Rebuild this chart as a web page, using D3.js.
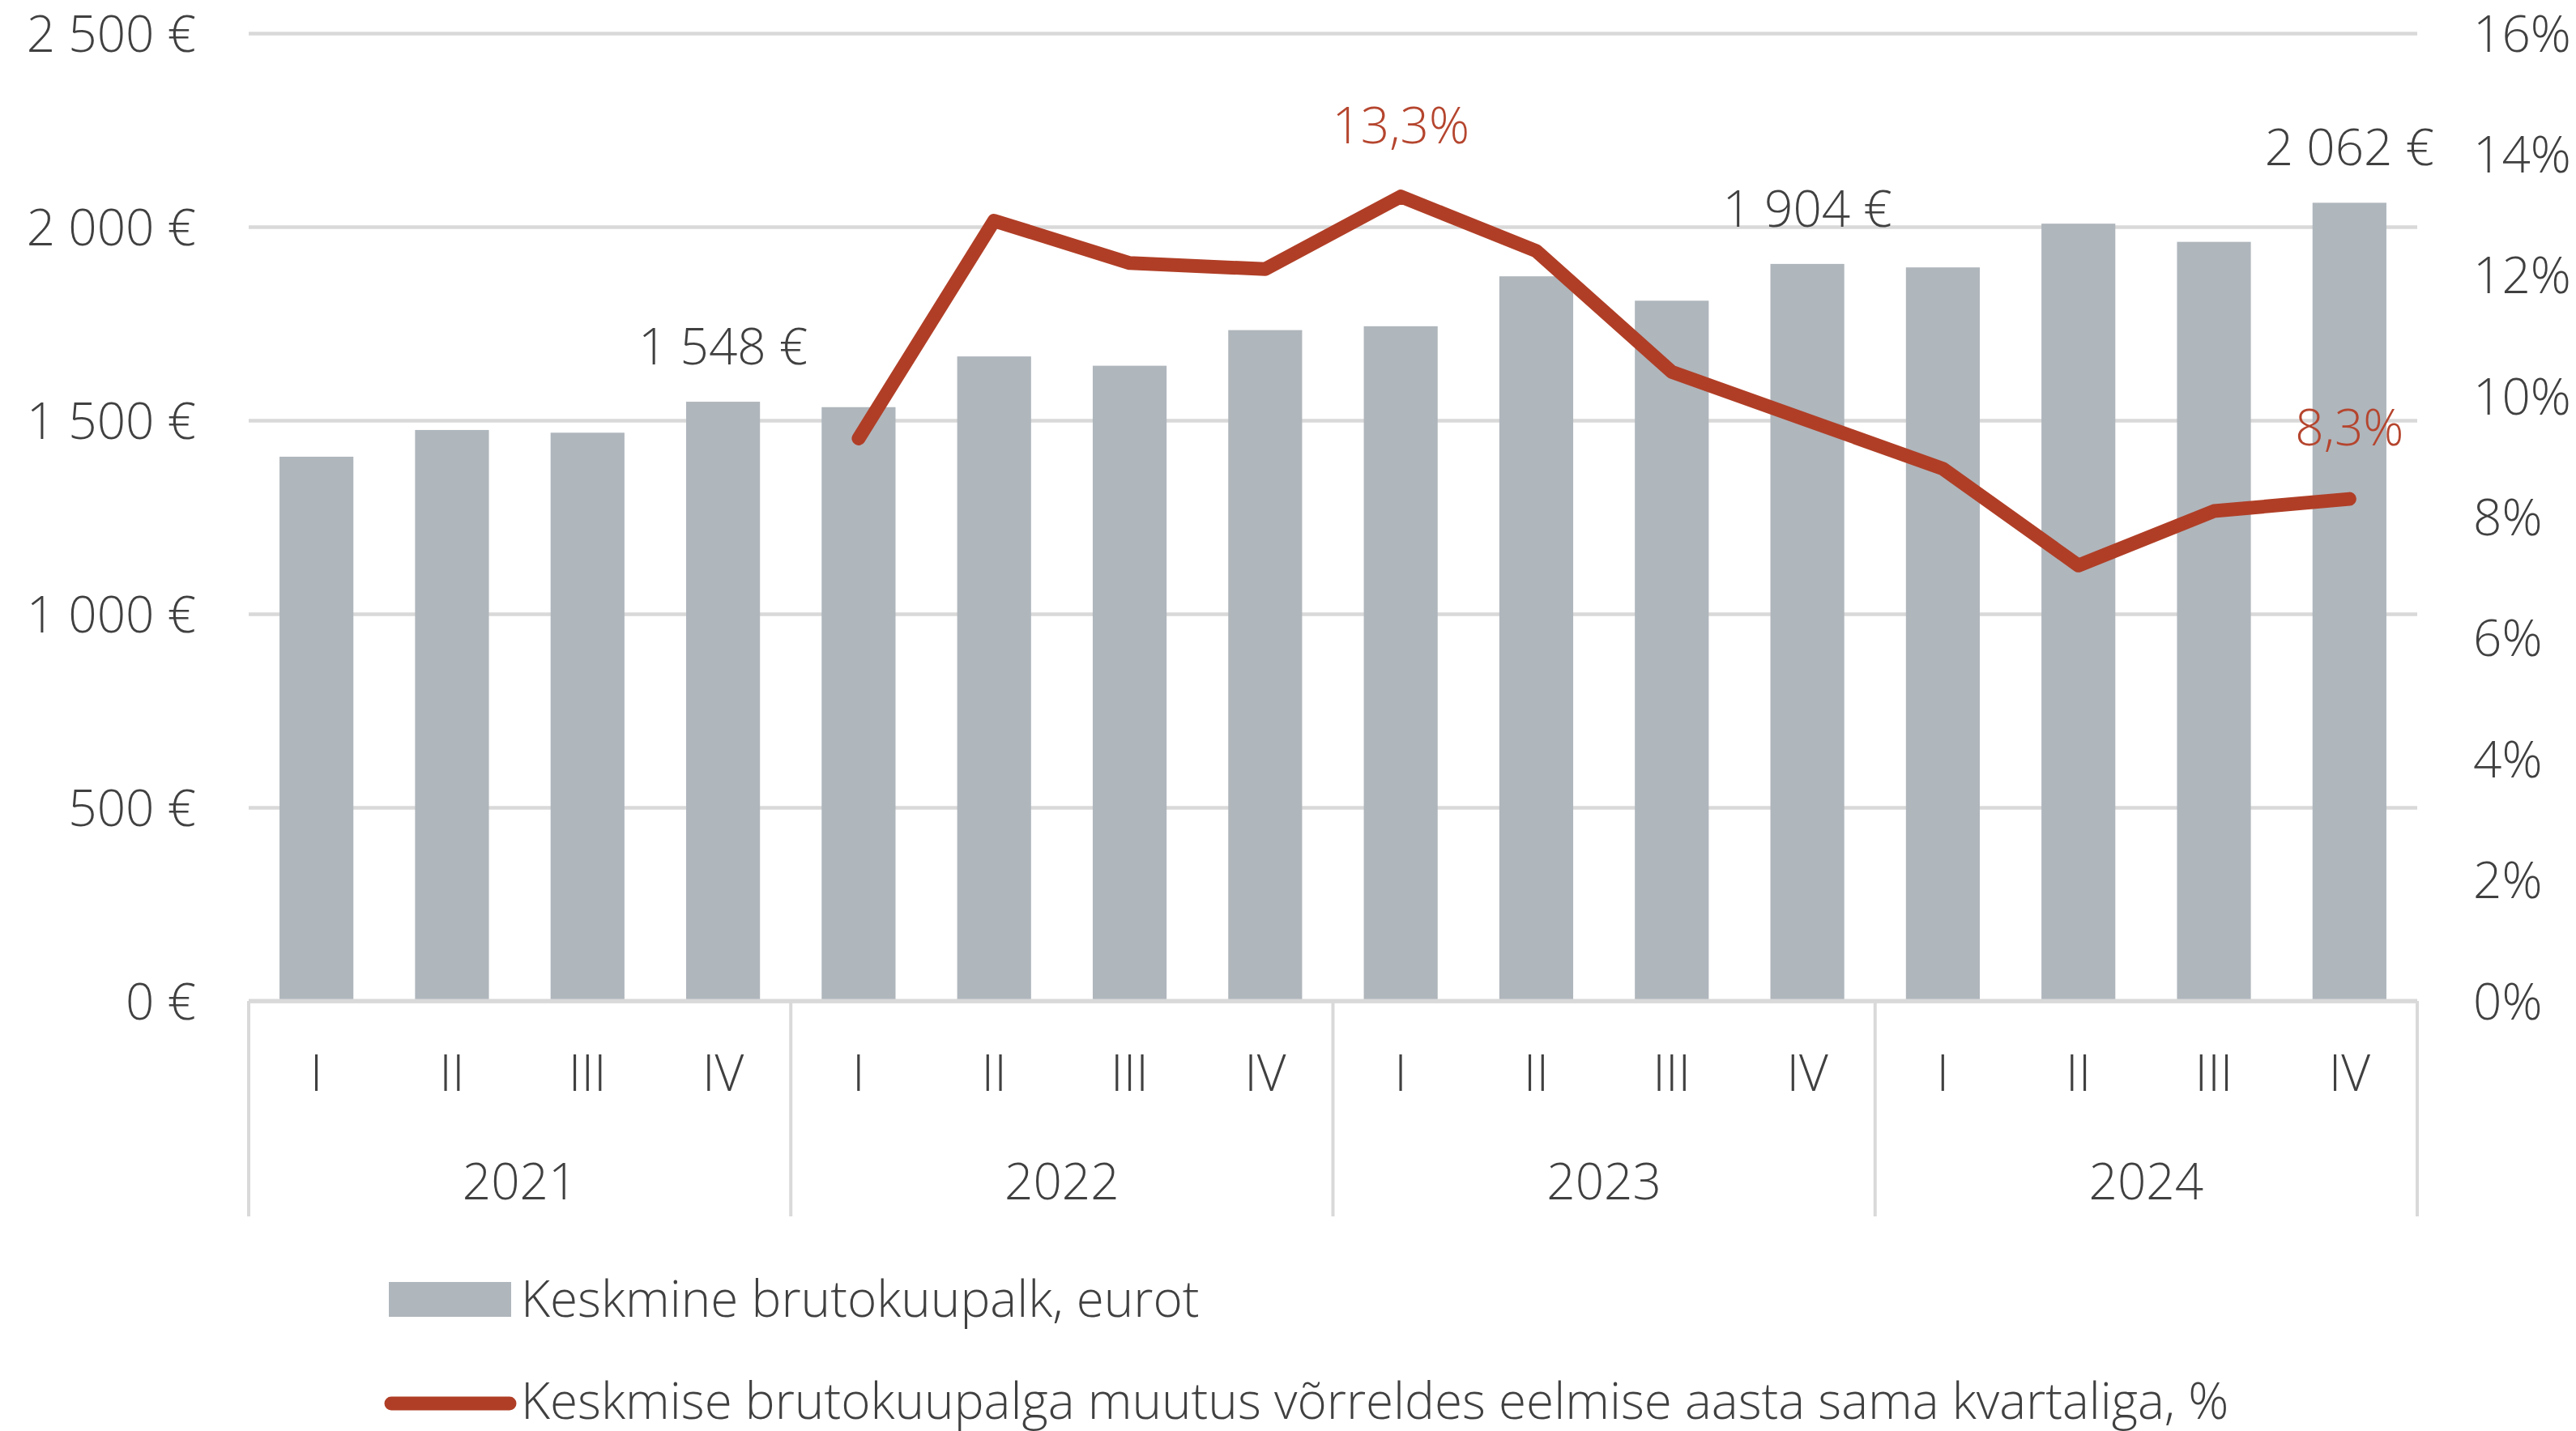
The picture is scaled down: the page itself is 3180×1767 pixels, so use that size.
<!DOCTYPE html>
<html>
<head>
<meta charset="utf-8">
<script src="https://cdn.jsdelivr.net/npm/d3@7"></script>
<style>
    body { margin: 0; background: #fff; }
    svg text { font-family: "Open Sans", "Liberation Sans", Arial, sans-serif; font-weight: 300; }
</style>
</head>
<body>
<svg id="chart"></svg>
<script>

// data
const years = ['2021', '2022', '2023', '2024'];
const quarters = ['I', 'II', 'III', 'IV'];
const wages = [1406, 1475, 1468, 1548, 1534, 1665, 1641, 1733, 1743, 1872, 1809, 1904, 1895, 2008, 1961, 2062];
const wageChange = [null, null, null, null, 9.3, 12.9, 12.2, 12.1, 13.3, 12.4, 10.4, 9.6, 8.8, 7.2, 8.1, 8.3];
const wageTicks = [0, 500, 1000, 1500, 2000, 2500];
const changeTicks = [0, 2, 4, 6, 8, 10, 12, 14, 16];
const wageLabelIdx = [3, 11, 15];
const changeLabelIdx = [8, 15];
const legendLabels = ['Keskmine brutokuupalk, eurot',
    'Keskmise brutokuupalga muutus võrreldes eelmise aasta sama kvartaliga, %'];

class ComboChart {

    constructor(_config) {
        this.config = {
            parentElement: _config.parentElement,
            containerWidth: _config.containerWidth || 3180,
            containerHeight: _config.containerHeight || 1767
        };
        this.config.margin = _config.margin || {top: 41, bottom: 531, right: 196, left: 307};
        this.initVis();
    }

    initVis() {
        let vis = this;
        vis.svg = d3.select(vis.config.parentElement)
            .attr('width', vis.config.containerWidth)
            .attr('height', vis.config.containerHeight);

        vis.chart = vis.svg.append('g')
            .attr('transform', `translate(${vis.config.margin.left},${vis.config.margin.top})`);

        vis.width = vis.config.containerWidth - vis.config.margin.left - vis.config.margin.right;
        vis.height = vis.config.containerHeight - vis.config.margin.top - vis.config.margin.bottom;

        vis.keys = [];
        years.forEach(y => quarters.forEach(q => vis.keys.push(y + '-' + q)));

        vis.xScale = d3.scaleBand()
            .domain(vis.keys)
            .range([0, vis.width])
            .paddingInner(0.455)
            .paddingOuter(0.2275);

        vis.yearScale = d3.scaleBand()
            .domain(years)
            .range([0, vis.width]);

        vis.yScale = d3.scaleLinear()
            .domain([0, 2500])
            .range([vis.height, 0]);

        vis.pctScale = d3.scaleLinear()
            .domain([0, 16])
            .range([vis.height, 0]);

        vis.eur = v => d3.format(',')(v).replace(/,/g, ' ') + ' €';
        vis.pct = v => d3.format('.1f')(v).replace('.', ',') + '%';

        vis.render();
    }

    render() {
        let vis = this;
        const textColor = '#404040';
        const red = '#B03E26';

        // left axis + gridlines
        const yAxisG = vis.chart.append('g')
            .call(d3.axisLeft(vis.yScale)
                .tickValues(wageTicks)
                .tickSize(-vis.width)
                .tickPadding(65)
                .tickFormat(vis.eur));
        yAxisG.select('.domain').remove();
        yAxisG.selectAll('line').attr('stroke', '#D9D9D9').attr('stroke-width', 4.5);
        yAxisG.selectAll('text')
            .attr('dy', null).attr('y', 22)
            .attr('font-size', 62).attr('fill', textColor);

        // right axis
        const pAxisG = vis.chart.append('g')
            .attr('transform', `translate(${vis.width},0)`)
            .call(d3.axisRight(vis.pctScale)
                .tickValues(changeTicks)
                .tickSize(0)
                .tickPadding(69)
                .tickFormat(d => d + '%'));
        pAxisG.select('.domain').remove();
        pAxisG.selectAll('text')
            .attr('dy', null).attr('y', 22)
            .attr('font-size', 62).attr('fill', textColor);

        // bars
        vis.chart.append('g')
            .selectAll('rect')
            .data(wages)
            .join('rect')
            .attr('x', (d, i) => vis.xScale(vis.keys[i]))
            .attr('y', d => vis.yScale(d))
            .attr('width', vis.xScale.bandwidth())
            .attr('height', d => vis.height - vis.yScale(d))
            .attr('fill', '#AFB6BC');

        // baseline + year separators
        vis.chart.append('line')
            .attr('x1', 0).attr('x2', vis.width)
            .attr('y1', vis.height).attr('y2', vis.height)
            .attr('stroke', '#D9D9D9').attr('stroke-width', 5);

        const sepX = years.map(y => vis.yearScale(y)).concat([vis.width]);
        vis.chart.append('g')
            .selectAll('line')
            .data(sepX)
            .join('line')
            .attr('x1', d => d).attr('x2', d => d)
            .attr('y1', vis.height).attr('y2', vis.height + 266)
            .attr('stroke', '#D9D9D9').attr('stroke-width', 4);

        // quarter labels
        vis.chart.append('g')
            .selectAll('text')
            .data(vis.keys)
            .join('text')
            .attr('x', d => vis.xScale(d) + vis.xScale.bandwidth() / 2)
            .attr('y', vis.height + 111)
            .attr('text-anchor', 'middle')
            .attr('font-size', 62).attr('fill', textColor)
            .text(d => d.split('-')[1]);

        // year labels
        vis.chart.append('g')
            .selectAll('text')
            .data(years)
            .join('text')
            .attr('x', d => vis.yearScale(d) + vis.yearScale.bandwidth() / 2)
            .attr('y', vis.height + 245)
            .attr('text-anchor', 'middle')
            .attr('font-size', 62).attr('fill', textColor)
            .text(d => d);

        // change line
        const line = d3.line()
            .defined(d => d != null)
            .x((d, i) => vis.xScale(vis.keys[i]) + vis.xScale.bandwidth() / 2)
            .y(d => vis.pctScale(d));

        vis.chart.append('path')
            .datum(wageChange)
            .attr('d', line)
            .attr('fill', 'none')
            .attr('stroke', red)
            .attr('stroke-width', 17)
            .attr('stroke-linejoin', 'round')
            .attr('stroke-linecap', 'round');

        // data labels
        vis.chart.append('g')
            .selectAll('text')
            .data(wageLabelIdx)
            .join('text')
            .attr('x', i => vis.xScale(vis.keys[i]) + vis.xScale.bandwidth() / 2)
            .attr('y', i => vis.yScale(wages[i]) - 46)
            .attr('text-anchor', 'middle')
            .attr('font-size', 62).attr('fill', textColor)
            .text(i => vis.eur(wages[i]));

        vis.chart.append('g')
            .selectAll('text')
            .data(changeLabelIdx)
            .join('text')
            .attr('x', i => vis.xScale(vis.keys[i]) + vis.xScale.bandwidth() / 2)
            .attr('y', i => vis.pctScale(wageChange[i]) - 66)
            .attr('text-anchor', 'middle')
            .attr('font-size', 62).attr('fill', '#B5452E')
            .text(i => vis.pct(wageChange[i]));

        vis.renderLegend(red, textColor);
    }

    renderLegend(red, textColor) {
        let vis = this;
        const lg = vis.svg.append('g');

        lg.append('rect')
            .attr('x', 480).attr('y', 1583)
            .attr('width', 151).attr('height', 43)
            .attr('fill', '#AFB6BC');
        lg.append('line')
            .attr('x1', 483).attr('x2', 629)
            .attr('y1', 1733).attr('y2', 1733)
            .attr('stroke', red).attr('stroke-width', 17)
            .attr('stroke-linecap', 'round');

        lg.selectAll('text')
            .data(legendLabels)
            .join('text')
            .attr('x', 643)
            .attr('y', (d, i) => i === 0 ? 1626 : 1752)
            .attr('font-size', 62).attr('fill', textColor)
            .text(d => d);
    }
}

new ComboChart({parentElement: '#chart'});
</script>
</body>
</html>
